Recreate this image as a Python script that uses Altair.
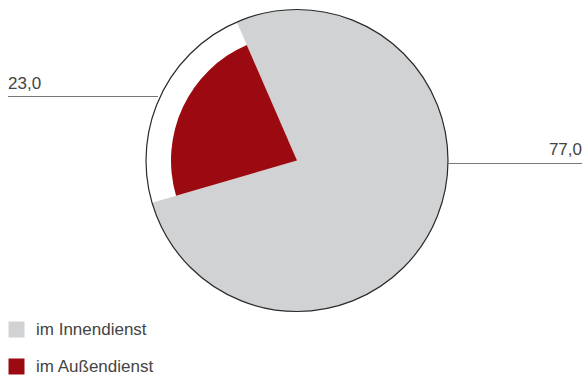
import altair as alt
import pandas as pd

categories = ["im Innendienst", "im Außendienst"]
values = [77.0, 23.0]
label_texts = ["77,0", "23,0"]
colors = ["#D1D2D4", "#9B0A10"]

df = pd.DataFrame({"cat": categories, "value": values, "label": label_texts,
                   "ord": [2, 1]})

CX, CY, R_OUT, R_IN = 297, 160.5, 151, 126
start = 4.428  # radians, start of red slice
TAU = 6.283185307

background = alt.Chart(pd.DataFrame({"a": [1]})).mark_arc(
    fill="white", strokeWidth=0
).encode(
    theta=alt.value(TAU), radius=alt.value(R_OUT),
    x=alt.value(CX), y=alt.value(CY)
)

outline = alt.Chart(pd.DataFrame({"a": [1]})).mark_point(
    shape="circle", filled=False, size=(2 * R_OUT) ** 2,
    stroke="#2a2a2a", strokeWidth=1.2, opacity=1
).encode(
    x=alt.value(CX), y=alt.value(CY)
)

slices = alt.Chart(df).transform_joinaggregate(
    total="sum(value)"
).transform_stack(
    stack="value", as_=["s0", "s1"], groupby=[],
    sort=[alt.SortField("ord", order="ascending")]
).transform_calculate(
    t0=f"{start} + {TAU} * datum.s0 / datum.total",
    t1=f"{start} + {TAU} * datum.s1 / datum.total",
    r=f"datum.cat == 'im Außendienst' ? {R_IN} : {R_OUT}"
).mark_arc(strokeWidth=0).encode(
    theta=alt.Theta("t0:Q", scale=None),
    theta2="t1:Q",
    radius=alt.Radius("r:Q", scale=None),
    color=alt.Color("cat:N",
                    scale=alt.Scale(domain=categories, range=colors),
                    legend=alt.Legend(
                        title=None, orient="none", legendX=8, legendY=321,
                        symbolType="square", symbolSize=256,
                        symbolStrokeWidth=0, labelFontSize=17,
                        labelFont="Liberation Sans", labelColor="#444444",
                        labelOffset=11, rowPadding=19, padding=0,
                        symbolOffset=0)),
    x=alt.value(CX), y=alt.value(CY)
)

lines = alt.Chart(pd.DataFrame({"cat": categories})).transform_calculate(
    x1="datum.cat == 'im Innendienst' ? 448 : 8",
    x2="datum.cat == 'im Innendienst' ? 582 : 158",
    yy="datum.cat == 'im Innendienst' ? 163.5 : 96.5"
).mark_rule(color="#777777", strokeWidth=1.2).encode(
    x=alt.X("x1:Q", scale=None), x2="x2:Q", y=alt.Y("yy:Q", scale=None)
)

left_label = alt.Chart(df).transform_filter(
    alt.datum.cat == "im Außendienst"
).mark_text(align="left", baseline="alphabetic", fontSize=17,
            font="Liberation Sans", color="#444444").encode(
    text="label:N", x=alt.value(8), y=alt.value(89)
)

right_label = alt.Chart(df).transform_filter(
    alt.datum.cat == "im Innendienst"
).mark_text(align="right", baseline="alphabetic", fontSize=17,
            font="Liberation Sans", color="#444444").encode(
    text="label:N", x=alt.value(582), y=alt.value(154.5)
)

chart = alt.layer(background, slices, outline, lines, left_label,
                  right_label).properties(
    width=582, height=376, autosize=alt.AutoSizeParams(type="none"), padding=0
).configure_view(stroke=None)

chart.save("out.html", embed_options={"renderer": "svg", "actions": False})
